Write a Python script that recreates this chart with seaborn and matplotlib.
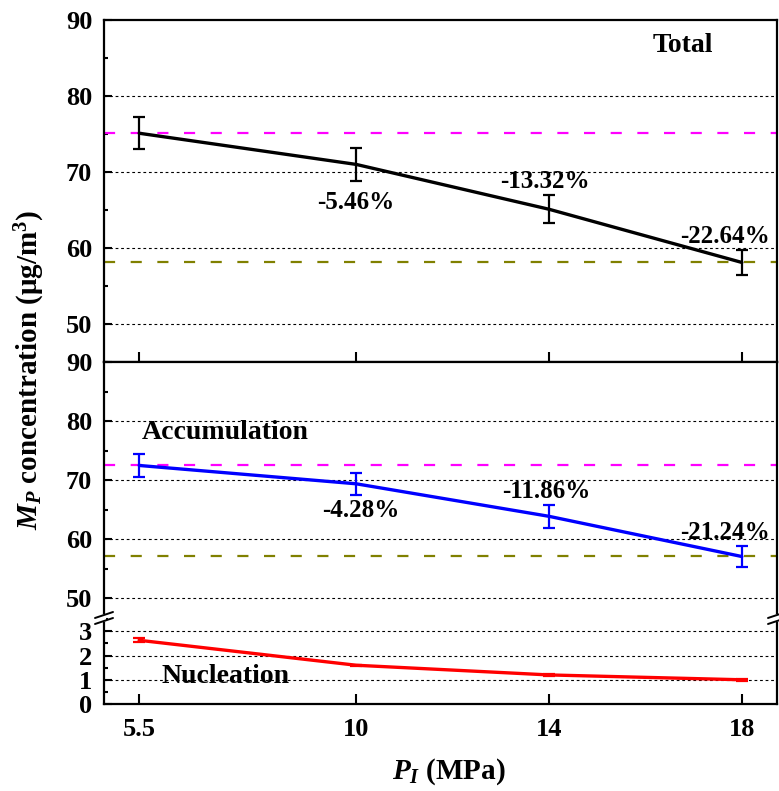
import numpy as np
import pandas as pd
import matplotlib
matplotlib.use("Agg")
import matplotlib.pyplot as plt
from matplotlib.lines import Line2D
from matplotlib.ticker import MultipleLocator
import seaborn as sns

# ---- data ----
pressure = [5.5, 10, 14, 18]
total = [75.1, 71.0, 65.1, 58.1]
total_err = [2.1, 2.2, 1.85, 1.7]
accum = [72.5, 69.4, 63.9, 57.1]
accum_err = [2.0, 1.9, 1.9, 1.75]
nucl = [2.63, 1.6, 1.2, 1.0]
nucl_err = [0.08, 0.03, 0.03, 0.03]
total_ref = [75.1, 58.1]
accum_ref = [72.5, 57.2]
total_pct = ["-5.46%", "-13.32%", "-22.64%"]
accum_pct = ["-4.28%", "-11.86%", "-21.24%"]
xticks = [5.5, 10, 14, 18]
xticklabels = ["5.5", "10", "14", "18"]

sns.set_theme(style="ticks")
plt.rcParams["font.family"] = ["Liberation Serif", "DejaVu Serif"]
plt.rcParams["font.weight"] = "bold"
plt.rcParams["text.color"] = "black"
plt.rcParams["axes.labelcolor"] = "black"
plt.rcParams["xtick.color"] = "black"
plt.rcParams["ytick.color"] = "black"
plt.rcParams["mathtext.fontset"] = "custom"
plt.rcParams["mathtext.rm"] = "Liberation Serif:bold"
plt.rcParams["mathtext.it"] = "Liberation Serif:bold:italic"
plt.rcParams["mathtext.bf"] = "Liberation Serif:bold"

W, H = 779, 791
fig = plt.figure(figsize=(W / 100, H / 100), dpi=100)

def frac_rect(x0, y0, x1, y1):
    return [x0 / W, 1 - y1 / H, (x1 - x0) / W, (y1 - y0) / H]

ax_t = fig.add_axes(frac_rect(104, 20, 777, 362))
ax_m = fig.add_axes(frac_rect(104, 362, 777, 618))
ax_b = fig.add_axes(frac_rect(104, 618, 777, 704))

XLIM = (4.77, 18.73)
TICK_FS = 19
ANN_FS = 18
LAB_FS = 20

df = pd.DataFrame({"P": pressure, "total": total, "accum": accum, "nucl": nucl})

def style_axis(ax, ylim, major, minor, yticks):
    ax.set_xlim(*XLIM)
    ax.set_ylim(*ylim)
    ax.set_facecolor("white")
    for s in ax.spines.values():
        s.set_visible(True)
        s.set_linewidth(1.6)
        s.set_color("black")
    ax.yaxis.set_major_locator(MultipleLocator(major))
    ax.yaxis.set_minor_locator(MultipleLocator(minor))
    ax.set_yticks(yticks)
    ax.set_yticklabels([str(int(v)) for v in yticks], fontsize=TICK_FS, fontweight="bold")
    ax.tick_params(axis="y", which="major", direction="in", length=6, width=1.5,
                   left=True, right=False, pad=8.5, colors="black")
    ax.tick_params(axis="y", which="minor", direction="in", length=3, width=1.5,
                   left=True, right=False, colors="black")
    ax.set_xticks(xticks)
    ax.tick_params(axis="x", which="major", direction="in", length=7, width=1.5,
                   top=False, bottom=True, colors="black")
    ax.tick_params(axis="x", which="minor", bottom=False, top=False)
    for v in yticks:
        if ylim[0] < v < ylim[1]:
            ax.axhline(v, color="black", lw=0.8, ls=(0, (2.5, 2.5)), zorder=1)
    ax.set_xlabel("")
    ax.set_ylabel("")

style_axis(ax_t, (45, 90), 10, 5, [50, 60, 70, 80, 90])
style_axis(ax_m, (46.7, 90), 10, 5, [50, 60, 70, 80, 90])
style_axis(ax_b, (0, 3.55), 1, 0.5, [0, 1, 2, 3])

ax_t.set_xticklabels([])
ax_m.set_xticklabels([])
ax_m.tick_params(axis="x", bottom=False)
ax_m.spines["bottom"].set_visible(False)
ax_b.spines["top"].set_visible(False)
ax_b.set_xticklabels(xticklabels, fontsize=TICK_FS, fontweight="bold")
ax_b.tick_params(axis="x", pad=10)

dash = (0, (5, 7))
# reference lines
ax_t.axhline(total_ref[0], color="#FF00FF", lw=1.6, ls=dash, zorder=2)
ax_t.axhline(total_ref[1], color="#808000", lw=1.6, ls=dash, zorder=2)
ax_m.axhline(accum_ref[0], color="#FF00FF", lw=1.6, ls=dash, zorder=2)
ax_m.axhline(accum_ref[1], color="#808000", lw=1.6, ls=dash, zorder=2)

# data lines
sns.lineplot(data=df, x="P", y="total", ax=ax_t, color="black", lw=2.4, zorder=3)
ax_t.errorbar(pressure, total, yerr=total_err, fmt="none", ecolor="black",
              elinewidth=1.6, capsize=4, capthick=1.6, zorder=4)
sns.lineplot(data=df, x="P", y="accum", ax=ax_m, color="#0000FF", lw=2.4, zorder=3)
ax_m.errorbar(pressure, accum, yerr=accum_err, fmt="none", ecolor="#0000FF",
              elinewidth=1.6, capsize=4, capthick=1.6, zorder=4)
sns.lineplot(data=df, x="P", y="nucl", ax=ax_b, color="#FF0000", lw=2.4, zorder=3)
ax_b.errorbar(pressure, nucl, yerr=nucl_err, fmt="none", ecolor="#FF0000",
              elinewidth=1.6, capsize=4, capthick=1.6, zorder=4)
for ax in (ax_t, ax_m, ax_b):
    ax.set_xlabel("")
    ax.set_ylabel("")
    ax.set_xlim(*XLIM)

# annotations
ax_t.text(16.78, 86.7, "Total", fontsize=LAB_FS, fontweight="bold", ha="center", va="center")
ann_t_pos = [(10.0, 66.05), (13.92, 68.7), (17.65, 61.5)]
for (x, y), s in zip(ann_t_pos, total_pct):
    ax_t.text(x, y, s, fontsize=ANN_FS, fontweight="bold", ha="center", va="center", zorder=5)
ax_m.text(7.28, 78.1, "Accumulation", fontsize=LAB_FS, fontweight="bold", ha="center", va="center")
ann_m_pos = [(10.1, 64.9), (13.95, 68.1), (17.65, 61.2)]
for (x, y), s in zip(ann_m_pos, accum_pct):
    ax_m.text(x, y, s, fontsize=ANN_FS, fontweight="bold", ha="center", va="center", zorder=5)
ax_b.text(7.3, 1.13, "Nucleation", fontsize=LAB_FS, fontweight="bold", ha="center", va="center", zorder=5)

# break marks
def brk(xc, yc):
    for dy in (-3, 3):
        fig.add_artist(Line2D([(xc - 9) / W, (xc + 9) / W],
                              [1 - (yc + dy + 3) / H, 1 - (yc + dy - 3) / H],
                              transform=fig.transFigure, color="black", lw=1.4, zorder=6))
for xc in (104, 777):
    fig.add_artist(Line2D([xc / W, xc / W], [1 - 620 / H, 1 - 616 / H],
                          transform=fig.transFigure, color="white", lw=3, zorder=5))
    brk(xc, 618)

fig.text(30 / W, 1 - 370 / H, r"$M_P$ concentration (μg/m$^{3}$)", rotation=90,
         fontsize=21, fontweight="bold", ha="center", va="center")
fig.text(449 / W, 1 - 772 / H, r"$P_I$ (MPa)", fontsize=21, fontweight="bold",
         ha="center", va="center")

fig.savefig("out.png", dpi=100, facecolor="white")
